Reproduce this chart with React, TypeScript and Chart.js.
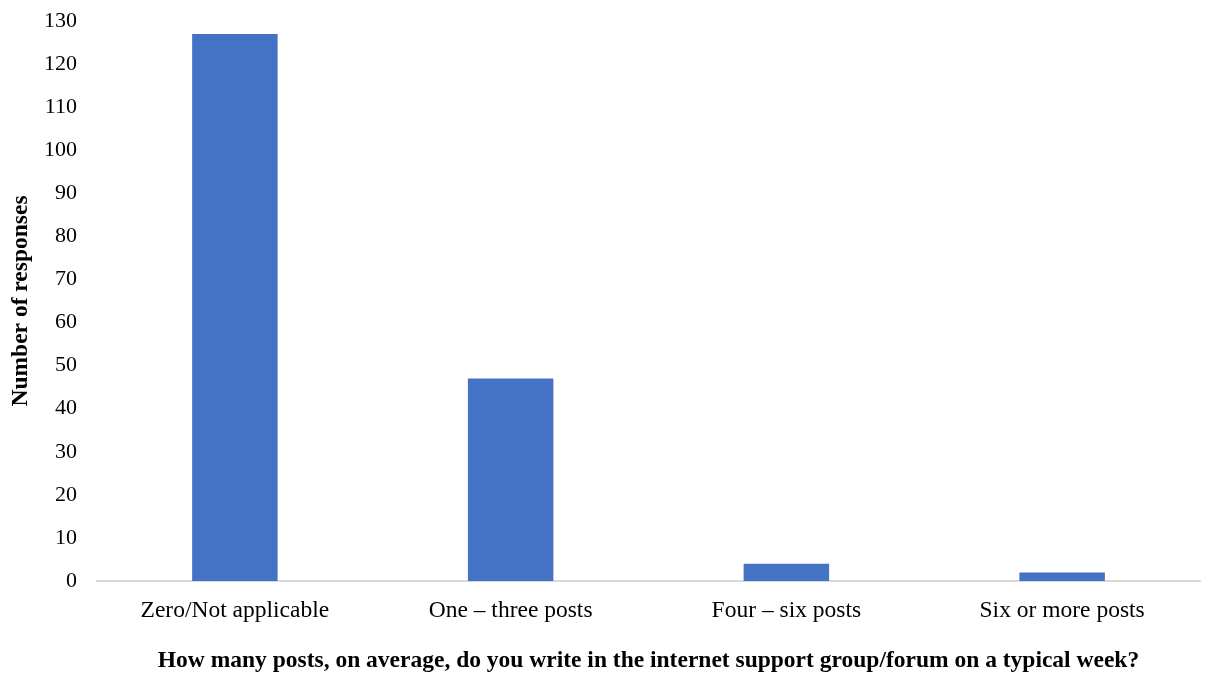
import React, { useEffect, useRef } from "react";
import { Chart, registerables } from "chart.js";

Chart.register(...registerables);

const categories = ["Zero/Not applicable", "One – three posts", "Four – six posts", "Six or more posts"];
const responses = [127, 47, 4, 2];
const yTicks = [0, 10, 20, 30, 40, 50, 60, 70, 80, 90, 100, 110, 120, 130];

const FONT = "'Liberation Serif', 'Times New Roman', serif";

export default function App() {
  const ref = useRef<HTMLCanvasElement | null>(null);
  useEffect(() => {
    if (!ref.current) return;
    const chart = new Chart(ref.current, {
      type: "bar",
      data: {
        labels: categories,
        datasets: [
          {
            label: "Number of responses",
            data: responses,
            backgroundColor: "#4472C4",
            categoryPercentage: 1,
            barPercentage: 0.31,
          },
        ],
      },
      options: {
        animation: false,
        responsive: true,
        maintainAspectRatio: false,
        layout: { padding: { top: 0, right: 5, left: 7, bottom: 2 } },
        plugins: { legend: { display: false }, tooltip: { enabled: false } },
        scales: {
          x: {
            afterFit: (axis: any) => {
              axis.height = 94;
            },
            grid: { display: false, drawTicks: false },
            border: { display: true, color: "#d9d9d9", width: 2 },
            ticks: { color: "#000", font: { family: FONT, size: 23.5 }, padding: 16 },
            title: {
              display: true,
              text: "How many posts, on average, do you write in the internet support group/forum on a typical week?",
              color: "#000",
              font: { family: FONT, size: 23.5, weight: "bold" },
              padding: { top: 26, bottom: 0 },
            },
          },
          y: {
            min: 0,
            max: 130,
            afterBuildTicks: (axis: any) => {
              axis.ticks = yTicks.map((v) => ({ value: v }));
            },
            afterFit: (axis: any) => {
              axis.width = 90;
              axis.paddingTop = 21;
              axis.paddingBottom = 0;
            },
            grid: { display: false, drawTicks: false },
            border: { display: false },
            ticks: { color: "#000", font: { family: FONT, size: 22 }, padding: 20 },
            title: {
              display: true,
              text: "Number of responses",
              color: "#000",
              font: { family: FONT, size: 23.5, weight: "bold" },
              padding: { top: 0, bottom: 7 },
            },
          },
        },
      },
    });
    return () => chart.destroy();
  }, []);
  return (
    <div style={{ position: "fixed", left: 0, top: 0, width: 1205, height: 677, background: "#fff" }}>
      <canvas ref={ref} />
    </div>
  );
}
